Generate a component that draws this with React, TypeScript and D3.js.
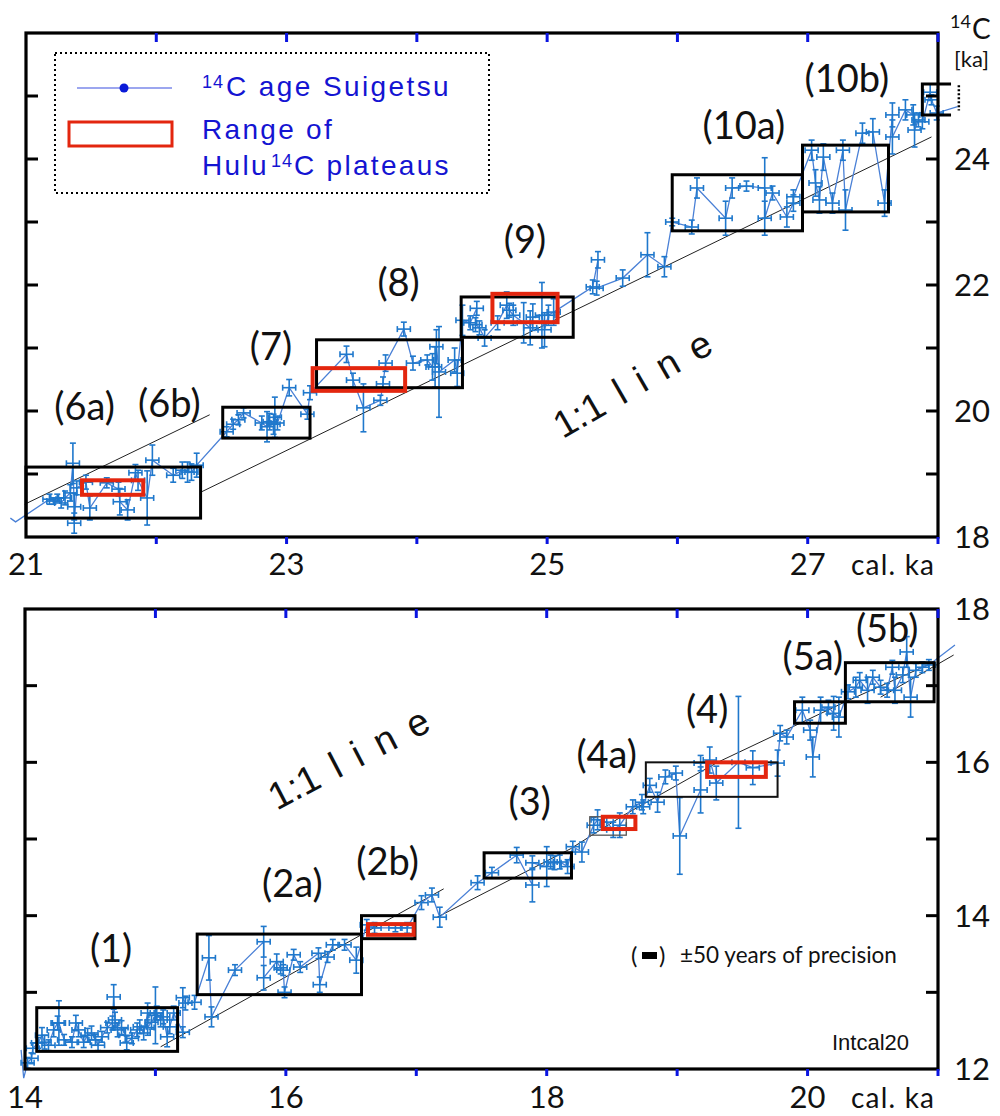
import React from "react";
import * as d3 from "d3";

// calendar-age precision used for every horizontal error bar (±50 yr)
const XERR = 0.05;

type Pt = [number, number, number]; // [cal ka, 14C ka, 14C error ka]
type Box = [number, number, number, number]; // [cal0, cal1, c14lo, c14hi]
type XY = [number, number];

// ---------- upper panel (21-28 cal ka) ----------
const topPoints: Pt[] = [
  [21.18, 18.6, 0.08], [21.21, 18.57, 0.05], [21.24, 18.62, 0.06], [21.27, 18.54, 0.08],
  [21.3, 18.62, 0.11], [21.34, 18.7, 0.13], [21.36, 19.17, 0.32], [21.37, 18.48, 0.21],
  [21.37, 18.22, 0.16], [21.39, 18.78, 0.11], [21.46, 18.87, 0.11], [21.49, 18.46, 0.19],
  [21.62, 18.86, 0.08], [21.71, 18.76, 0.11], [21.72, 18.56, 0.21], [21.78, 18.43, 0.16],
  [21.84, 19.02, 0.13], [21.86, 18.9, 0.16], [21.93, 18.62, 0.43], [21.97, 19.22, 0.24],
  [22.13, 18.98, 0.11], [22.2, 19.06, 0.13], [22.24, 19.03, 0.16], [22.27, 19.03, 0.13],
  [22.31, 19.14, 0.19], [22.54, 19.67, 0.08], [22.59, 19.79, 0.08], [22.63, 19.86, 0.08],
  [22.67, 19.97, 0.08], [22.81, 19.81, 0.11], [22.85, 19.75, 0.24], [22.87, 19.83, 0.13],
  [22.9, 19.79, 0.16], [22.91, 19.9, 0.32], [22.93, 19.81, 0.11], [23.02, 20.37, 0.13],
  [23.16, 19.95, 0.08], [23.18, 20.29, 0.11], [23.46, 20.9, 0.13], [23.51, 20.49, 0.11],
  [23.59, 20.05, 0.38], [23.72, 20.17, 0.08], [23.74, 20.43, 0.11], [23.76, 20.76, 0.13],
  [23.9, 21.3, 0.11], [23.97, 20.76, 0.11], [24.08, 20.81, 0.08], [24.12, 20.7, 0.21],
  [24.14, 20.7, 0.32], [24.15, 21.02, 0.27], [24.17, 20.62, 0.72], [24.29, 20.81, 0.19],
  [24.31, 20.6, 0.21], [24.35, 21.44, 0.24], [24.41, 21.4, 0.11], [24.46, 21.63, 0.11],
  [24.45, 21.37, 0.11], [24.48, 21.32, 0.11], [24.52, 21.16, 0.13], [24.62, 21.4, 0.11],
  [24.69, 21.68, 0.21], [24.71, 21.6, 0.11], [24.74, 21.52, 0.16], [24.82, 21.4, 0.32],
  [24.87, 21.32, 0.27], [24.89, 21.49, 0.21], [24.96, 21.52, 0.52], [24.98, 21.29, 0.27],
  [25.01, 21.52, 0.16], [25.05, 21.57, 0.21], [25.35, 21.97, 0.11], [25.39, 22.4, 0.13],
  [25.38, 21.95, 0.11], [25.58, 22.11, 0.13], [25.77, 22.48, 0.35], [25.9, 22.29, 0.16],
  [25.96, 23.0, 0.06], [26.11, 22.92, 0.11], [26.15, 23.54, 0.16], [26.37, 23.06, 0.27],
  [26.42, 23.54, 0.16], [26.53, 23.57, 0.08], [26.67, 23.54, 0.48], [26.67, 23.06, 0.27],
  [26.73, 23.46, 0.11], [26.84, 23.08, 0.16], [26.89, 23.3, 0.13], [26.89, 23.4, 0.11],
  [27.03, 24.14, 0.16], [27.06, 23.62, 0.21], [27.09, 23.35, 0.21], [27.12, 24.03, 0.21],
  [27.19, 23.3, 0.16], [27.27, 24.14, 0.16], [27.29, 23.19, 0.32], [27.42, 24.41, 0.16],
  [27.5, 24.43, 0.21], [27.59, 23.3, 0.21], [27.65, 24.7, 0.19], [27.65, 24.35, 0.27],
  [27.75, 24.78, 0.16], [27.81, 24.7, 0.16], [27.82, 24.46, 0.27], [27.85, 24.62, 0.11],
  [27.88, 24.59, 0.11], [27.94, 25.06, 0.13], [27.95, 24.94, 0.08], [27.99, 24.73, 0.11],
];
const topLead: XY[] = [[20.88, 18.3], [20.92, 18.24]];
const topTail: XY[] = [[28.15, 24.83]];
const topBoxes: Box[] = [
  [21.0, 22.34, 18.3, 19.11], [22.51, 23.18, 19.57, 20.06], [23.23, 24.35, 20.37, 21.13],
  [24.34, 25.2, 21.17, 21.81], [25.96, 26.96, 22.86, 23.75], [26.96, 27.62, 23.16, 24.22],
];
const topHulu: Box[] = [[21.43, 21.9, 18.67, 18.9], [23.2, 23.91, 20.32, 20.68], [24.58, 25.08, 21.41, 21.86]];
const topEdgeBox: Box = [27.88, 28.1, 24.7, 25.19];
const topLines: XY[][] = [
  [[20.99, 18.52], [22.41, 19.94]],
  [[22.34, 18.71], [27.95, 24.35]],
];
const topLabels: [string, number, number][] = [
  ["(6a)", 21.45, 19.86], ["(6b)", 22.1, 19.9], ["(7)", 22.88, 20.81], ["(8)", 23.86, 21.83],
  ["(9)", 24.83, 22.51], ["(10a)", 26.51, 24.32], ["(10b)", 27.3, 25.06],
];
const topXLabels = [21, 23, 25, 27];
const topYLabels = [18, 20, 22, 24];

// ---------- lower panel (14-21 cal ka) ----------
const botPoints: Pt[] = [
  [14.02, 12.08, 0.07], [14.05, 12.14, 0.07], [14.06, 12.27, 0.07], [14.1, 12.34, 0.07],
  [14.13, 12.44, 0.1], [14.15, 12.35, 0.09], [14.18, 12.31, 0.07], [14.22, 12.51, 0.09],
  [14.25, 12.6, 0.09], [14.26, 12.6, 0.29], [14.3, 12.38, 0.07], [14.36, 12.35, 0.07],
  [14.39, 12.6, 0.1], [14.41, 12.51, 0.09], [14.45, 12.35, 0.07], [14.48, 12.44, 0.09],
  [14.51, 12.47, 0.09], [14.54, 12.38, 0.07], [14.56, 12.31, 0.07], [14.59, 12.42, 0.07],
  [14.63, 12.54, 0.07], [14.67, 12.6, 0.09], [14.68, 12.94, 0.16], [14.69, 12.64, 0.1],
  [14.71, 12.51, 0.09], [14.74, 12.54, 0.09], [14.77, 12.44, 0.09], [14.78, 12.34, 0.09],
  [14.82, 12.4, 0.07], [14.86, 12.51, 0.09], [14.88, 12.55, 0.09], [14.91, 12.47, 0.09],
  [14.94, 12.73, 0.13], [14.94, 12.54, 0.1], [14.97, 12.61, 0.09], [15.0, 12.7, 0.37],
  [15.01, 12.73, 0.09], [15.04, 12.64, 0.09], [15.06, 12.68, 0.09], [15.09, 12.42, 0.13],
  [15.11, 12.55, 0.09], [15.14, 12.73, 0.09], [15.21, 12.48, 0.07], [15.21, 12.93, 0.13],
  [15.23, 12.86, 0.09], [15.3, 12.87, 0.09], [15.41, 13.45, 0.29], [15.43, 12.68, 0.13],
  [15.61, 13.29, 0.07], [15.83, 13.66, 0.2], [15.83, 13.19, 0.16], [15.93, 13.4, 0.1],
  [15.96, 13.32, 0.08], [15.98, 13.29, 0.07], [15.99, 13.0, 0.07], [16.06, 13.49, 0.07],
  [16.11, 13.33, 0.07], [16.25, 13.51, 0.07], [16.26, 13.1, 0.1], [16.32, 13.46, 0.07],
  [16.36, 13.62, 0.07], [16.45, 13.62, 0.07], [16.54, 13.42, 0.17], [16.62, 13.88, 0.07],
  [16.68, 13.84, 0.07], [16.84, 13.84, 0.05], [16.93, 13.84, 0.07], [17.04, 14.17, 0.09],
  [17.12, 14.27, 0.09], [17.18, 13.98, 0.13], [17.47, 14.43, 0.09], [17.58, 14.56, 0.07],
  [17.77, 14.79, 0.1], [17.89, 14.4, 0.22], [17.89, 14.69, 0.09], [18.0, 14.64, 0.26],
  [18.03, 14.7, 0.09], [18.06, 14.69, 0.09], [18.1, 14.7, 0.09], [18.16, 14.64, 0.09],
  [18.2, 14.9, 0.07], [18.27, 14.83, 0.13], [18.36, 15.18, 0.1], [18.39, 15.25, 0.13],
  [18.46, 15.22, 0.07], [18.51, 15.12, 0.1], [18.56, 15.18, 0.16], [18.66, 15.42, 0.09],
  [18.73, 15.48, 0.1], [18.74, 15.42, 0.09], [18.79, 15.7, 0.09], [18.85, 15.48, 0.13],
  [18.91, 15.81, 0.09], [18.99, 15.86, 0.09], [19.02, 15.04, 0.5], [19.18, 15.64, 0.3],
  [19.18, 15.99, 0.1], [19.25, 16.03, 0.17], [19.3, 15.73, 0.22], [19.47, 16.0, 0.86],
  [19.58, 15.93, 0.22], [19.77, 15.99, 0.17], [19.79, 16.38, 0.1], [19.84, 16.33, 0.09],
  [19.96, 16.68, 0.17], [20.02, 16.42, 0.13], [20.04, 16.07, 0.26], [20.1, 16.68, 0.17],
  [20.16, 16.72, 0.09], [20.2, 16.64, 0.22], [20.24, 16.59, 0.26], [20.31, 16.92, 0.09],
  [20.37, 16.98, 0.13], [20.4, 17.07, 0.1], [20.46, 16.94, 0.17], [20.5, 17.11, 0.09],
  [20.56, 16.98, 0.09], [20.61, 16.94, 0.09], [20.65, 17.24, 0.09], [20.67, 16.94, 0.17],
  [20.73, 17.14, 0.1], [20.76, 17.44, 0.2], [20.79, 16.85, 0.26], [20.83, 17.2, 0.09],
  [20.88, 17.24, 0.07], [20.93, 17.27, 0.07],
];
const botLead: XY[] = [[13.97, 12.25], [13.99, 11.88]];
const botTail: XY[] = [[21.13, 17.53]];
const botBoxes: Box[] = [
  [14.09, 15.17, 12.23, 12.8], [15.32, 16.58, 12.97, 13.76], [16.58, 16.99, 13.7, 14.0],
  [17.52, 18.19, 14.49, 14.82], [19.9, 20.29, 16.51, 16.79], [20.29, 20.97, 16.79, 17.3],
];
const botMidBoxes: Box[] = [[18.76, 19.77, 15.55, 16.0]];
const botThinBoxes: Box[] = [[18.33, 18.61, 15.05, 15.29]];
const botHulu: Box[] = [[16.63, 16.98, 13.75, 13.89], [18.43, 18.68, 15.13, 15.29], [19.23, 19.68, 15.81, 16.0]];
const botLines: XY[][] = [
  [[15.04, 12.29], [17.21, 14.35]],
  [[17.16, 13.98], [18.18, 14.87], [18.59, 15.31], [19.31, 16.0], [20.29, 16.79], [20.96, 17.3]],
  [[20.56, 16.85], [21.12, 17.4]],
];
const botLabels: [string, number, number][] = [
  ["(1)", 14.66, 13.4], ["(2a)", 16.05, 14.24], ["(2b)", 16.78, 14.53], ["(3)", 17.87, 15.31],
  ["(4a)", 18.46, 15.93], ["(4)", 19.23, 16.51], ["(5a)", 20.04, 17.2], ["(5b)", 20.61, 17.57],
];
const botXLabels = [14, 16, 18, 20];
const botYLabels = [12, 14, 16, 18];

const BLUE = "#1f78cc";
const LINE_BLUE = "#4a80d6";
const RED = "#e3260f";
const NUM_FONT = "Lato, 'Open Sans', sans-serif";
const ARIAL = "'Liberation Sans', Arial, sans-serif";

type Scale = d3.ScaleLinear<number, number>;

function Panel(props: {
  x: Scale; y: Scale; points: Pt[]; lead: XY[]; tail: XY[];
  boxSets: { data: Box[]; stroke: string; width: number }[];
  lines: XY[][]; labels: [string, number, number][];
  xLabels: number[]; yLabels: number[]; xLabelBase: number;
  oneToOne: { at: XY; angle: number };
}) {
  const { x, y } = props;
  const [x0, x1] = x.domain();
  const [y0, y1] = y.domain();
  const [L, R] = x.range();
  const [B, T] = y.range();
  const path = d3.line<number[]>().x(d => x(d[0])).y(d => y(d[1]));
  const seq: number[][] = [...props.lead, ...props.points.map(p => [p[0], p[1]]), ...props.tail];
  const xTicks = d3.range(x0 + 1, x1 + 1);
  const yTicks = d3.range(y0 + 1, y1);
  const cap = 3;
  const txtAt = props.oneToOne.at;

  return (
    <g>
      {props.lines.map((l, i) => (
        <path key={i} d={path(l) || ""} fill="none" stroke="#222" strokeWidth={1} />
      ))}
      <path d={path(seq) || ""} fill="none" stroke={LINE_BLUE} strokeWidth={1.3} />
      <g stroke={BLUE} strokeWidth={1.6}>
        {props.points.map((p, i) => {
          const cx = x(p[0]), cy = y(p[1]);
          const ya = y(p[1] + p[2]), yb = y(p[1] - p[2]);
          const xa = x(p[0] - XERR), xb = x(p[0] + XERR);
          return (
            <g key={i}>
              <line x1={cx} x2={cx} y1={ya} y2={yb} />
              <line x1={cx - cap} x2={cx + cap} y1={ya} y2={ya} />
              <line x1={cx - cap} x2={cx + cap} y1={yb} y2={yb} />
              <line x1={xa} x2={xb} y1={cy} y2={cy} />
              <line x1={xa} x2={xa} y1={cy - cap} y2={cy + cap} />
              <line x1={xb} x2={xb} y1={cy - cap} y2={cy + cap} />
            </g>
          );
        })}
      </g>
      {props.boxSets.map((s, i) => (
        <g key={i} fill="none" stroke={s.stroke} strokeWidth={s.width}>
          {s.data.map((b, j) => (
            <rect key={j} x={x(b[0])} y={y(b[3])} width={x(b[1]) - x(b[0])} height={y(b[2]) - y(b[3])} />
          ))}
        </g>
      ))}
      {/* frame */}
      <rect x={L} y={T} width={R - L} height={B - T} fill="none" stroke="#000" strokeWidth={3.2} />
      <g stroke="#000" strokeWidth={3}>
        {yTicks.map(v => (
          <g key={v}>
            <line x1={L} x2={L + 12} y1={y(v)} y2={y(v)} />
            <line x1={R} x2={R - 12} y1={y(v)} y2={y(v)} />
          </g>
        ))}
      </g>
      <g stroke="#0a14e0" strokeWidth={3}>
        {xTicks.map(v => (
          <g key={v}>
            <line x1={x(v)} x2={x(v)} y1={T} y2={T + 9} />
            <line x1={x(v)} x2={x(v)} y1={B} y2={B + 7} />
          </g>
        ))}
      </g>
      <g fontFamily={NUM_FONT} fontSize={31} fill="#111">
        {props.xLabels.map(v => (
          <text key={v} x={x(v)} y={props.xLabelBase} textAnchor="middle">{v}</text>
        ))}
        {props.yLabels.map(v => (
          <text key={v} x={954} y={y(v) + 11}>{v}</text>
        ))}
        <text x={851} y={props.xLabelBase} fontSize={28} letterSpacing={1.2}>cal.  ka</text>
      </g>
      <g fontFamily={NUM_FONT} fontSize={38} fill="#111" textAnchor="middle">
        {props.labels.map(([t, cx, cy]) => (
          <text key={t} x={x(cx)} y={y(cy)}>{t}</text>
        ))}
      </g>
      <text
        transform={`translate(${x(txtAt[0])},${y(txtAt[1])}) rotate(${props.oneToOne.angle})`}
        fontFamily={ARIAL} fontSize={38} fill="#111"
      >
        1:1<tspan dx={16} letterSpacing={16}>line</tspan>
      </text>
    </g>
  );
}

export default function App() {
  const tx = d3.scaleLinear().domain([21, 28]).range([26, 938]);
  const ty = d3.scaleLinear().domain([18, 26]).range([537, 33]);
  const bx = d3.scaleLinear().domain([14, 21]).range([25, 938]);
  const by = d3.scaleLinear().domain([12, 18]).range([1069, 609]);
  const eb = topEdgeBox;
  const legendBlue = "#1414d2";

  return (
    <svg width={1000} height={1116} style={{ position: "absolute", left: 0, top: 0 }}>
      <rect width={1000} height={1116} fill="#fff" />
      <Panel
        x={tx} y={ty} points={topPoints} lead={topLead} tail={topTail}
        boxSets={[
          { data: topBoxes, stroke: "#000", width: 3 },
          { data: topHulu, stroke: RED, width: 4 },
        ]}
        lines={topLines} labels={topLabels} xLabels={topXLabels} yLabels={topYLabels}
        xLabelBase={575} oneToOne={{ at: [25.12, 19.55], angle: -30 }}
      />
      {/* box straddling the right axis */}
      <path
        d={`M${tx(eb[1])},${ty(eb[3])}H${tx(eb[0])}V${ty(eb[2])}H${tx(eb[1])}`}
        fill="none" stroke="#000" strokeWidth={3}
      />
      <line x1={tx(28.16)} x2={tx(28.16)} y1={ty(25.17)} y2={ty(24.77)} stroke="#000" strokeWidth={2.5} strokeDasharray="2,2" />
      {/* axis title */}
      <g fontFamily={NUM_FONT} fill="#111">
        <text x={950} y={28} fontSize={18}>14</text>
        <text x={972} y={39} fontSize={28}>C</text>
        <text x={954} y={67} fontSize={22}>[ka]</text>
      </g>
      {/* legend */}
      <rect x={55} y={53} width={434} height={140} fill="none" stroke="#000" strokeWidth={2} strokeDasharray="2,3" />
      <line x1={77} x2={172} y1={88} y2={88} stroke="#3b4ee0" strokeWidth={1.2} />
      <circle cx={124} cy={88} r={4.5} fill="#0a1ad8" />
      <rect x={69} y={122} width={103} height={24} fill="none" stroke={RED} strokeWidth={3} />
      <g fontFamily={ARIAL} fill={legendBlue}>
        <text x={202} y={88} fontSize={18} letterSpacing={1}>14</text>
        <text x={226} y={96} fontSize={28} letterSpacing={2.4}>C age Suigetsu</text>
        <text x={202} y={139} fontSize={28} letterSpacing={2.3}>Range of</text>
        <text x={202} y={175} fontSize={28} letterSpacing={2.3}>Hulu</text>
        <text x={271} y={167} fontSize={18} letterSpacing={1}>14</text>
        <text x={294} y={175} fontSize={28} letterSpacing={2.3}>C plateaus</text>
      </g>

      <Panel
        x={bx} y={by} points={botPoints} lead={botLead} tail={botTail}
        boxSets={[
          { data: botBoxes, stroke: "#000", width: 3 },
          { data: botMidBoxes, stroke: "#111", width: 2 },
          { data: botThinBoxes, stroke: "#555", width: 1.3 },
          { data: botHulu, stroke: RED, width: 4 },
        ]}
        lines={botLines} labels={botLabels} xLabels={botXLabels} yLabels={botYLabels}
        xLabelBase={1108} oneToOne={{ at: [15.93, 15.37], angle: -27.5 }}
      />
      <g fontFamily={NUM_FONT} fill="#111">
        <text x={631} y={964} fontSize={24}>(</text>
        <rect x={642} y={952} width={15} height={7} fill="#000" />
        <text x={659} y={964} fontSize={24}>)</text>
        <text x={680} y={963} fontSize={22.5}>±50 years of precision</text>
      </g>
      <text x={832} y={1050} fontFamily={ARIAL} fontSize={22} fill="#111">Intcal20</text>
    </svg>
  );
}
